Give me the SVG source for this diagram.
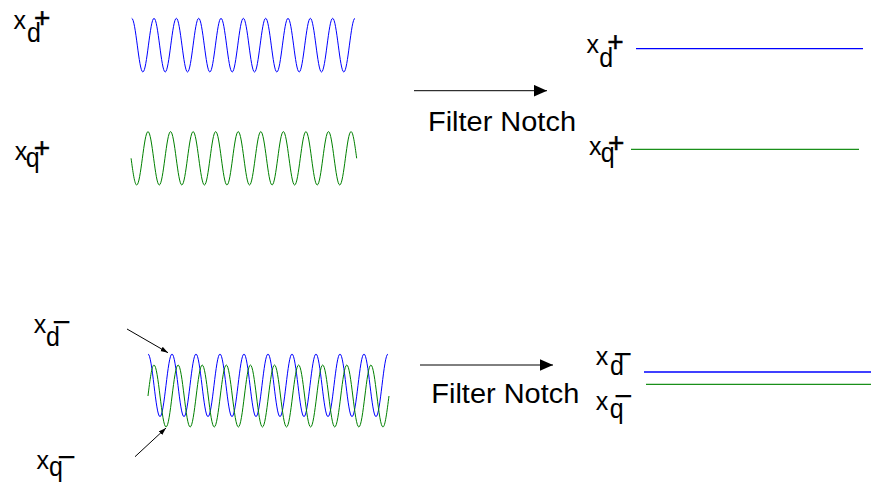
<svg xmlns="http://www.w3.org/2000/svg" width="871" height="488" viewBox="0 0 871 488">
<defs>
<style>
text{font-family:"Liberation Sans",Arial,sans-serif;fill:#000}
.lbl{font-size:25px}
.pm{font-size:28px;text-anchor:middle;stroke:#000;stroke-width:0.5}
.mn{font-size:32px;text-anchor:middle}
.ft{font-size:27px}
.wb{fill:none;stroke:#0000ff;stroke-width:1}
.wg{fill:none;stroke:#008000;stroke-width:1}
.fb{stroke:#0000ff;stroke-width:1.3}
.fg{stroke:#1a8f1a;stroke-width:1.3}
.ar{stroke:#000;stroke-width:1;fill:none}
</style>
<marker id="big" markerUnits="userSpaceOnUse" markerWidth="14" markerHeight="12" refX="13" refY="5.8" orient="auto">
<path d="M0,0 L13,5.8 L0,11.6 z" fill="#000"/>
</marker>
<marker id="small" markerUnits="userSpaceOnUse" markerWidth="8" markerHeight="6" refX="7.5" refY="2.5" orient="auto">
<path d="M0,0 L7.5,2.5 L0,5 z" fill="#000"/>
</marker>
</defs>

<g id="wave-xd-plus">
<path class="wb" d="M131.7,18.3 C135.76,18.3 138.81,72 142.87,72 S149.97,18.3 154.03,18.3 S161.14,72 165.20,72 S172.30,18.3 176.36,18.3 S183.47,72 187.53,72 S194.63,18.3 198.69,18.3 S205.80,72 209.86,72 S216.96,18.3 221.02,18.3 S228.13,72 232.19,72 S239.29,18.3 243.35,18.3 S250.46,72 254.52,72 S261.62,18.3 265.68,18.3 S272.79,72 276.85,72 S283.95,18.3 288.01,18.3 S295.12,72 299.18,72 S306.28,18.3 310.34,18.3 S317.45,72 321.51,72 S328.61,18.3 332.67,18.3 S339.78,72 343.84,72 S350.94,18.3 355.00,18.3"/>
</g>
<g id="wave-xq-plus">
<path class="wg" d="M131.08,158.3 C132.92,171.98 134.68,185 136.72,185 C140.82,185 143.90,131.6 148.00,131.6 S155.18,185 159.28,185 S166.46,131.6 170.56,131.6 S177.74,185 181.84,185 S189.02,131.6 193.12,131.6 S200.30,185 204.40,185 S211.58,131.6 215.68,131.6 S222.86,185 226.96,185 S234.14,131.6 238.24,131.6 S245.42,185 249.52,185 S256.70,131.6 260.80,131.6 S267.98,185 272.08,185 S279.26,131.6 283.36,131.6 S290.54,185 294.64,185 S301.82,131.6 305.92,131.6 S313.10,185 317.20,185 S324.38,131.6 328.48,131.6 S335.66,185 339.76,185 S346.94,131.6 351.04,131.6 C353.08,131.6 354.84,144.62 356.68,158.3"/>
</g>
<g id="wave-xd-minus">
<path class="wb" d="M148,354 C152.36,354 155.64,416.7 160,416.7 S167.64,354 172,354 S179.64,416.7 184,416.7 S191.64,354 196,354 S203.64,416.7 208,416.7 S215.64,354 220,354 S227.64,416.7 232,416.7 S239.64,354 244,354 S251.64,416.7 256,416.7 S263.64,354 268,354 S275.64,416.7 280,416.7 S287.64,354 292,354 S299.64,416.7 304,416.7 S311.64,354 316,354 S323.64,416.7 328,416.7 S335.64,354 340,354 S347.64,416.7 352,416.7 S359.64,354 364,354 S371.64,416.7 376,416.7 S383.64,354 388,354"/>
</g>
<g id="wave-xq-minus">
<path class="wg" d="M147.98,396 C149.94,380.12 151.82,365 154,365 C158.38,365 161.67,427 166.05,427 S173.72,365 178.10,365 S185.77,427 190.15,427 S197.82,365 202.20,365 S209.87,427 214.25,427 S221.92,365 226.30,365 S233.97,427 238.35,427 S246.02,365 250.40,365 S258.07,427 262.45,427 S270.12,365 274.50,365 S282.17,427 286.55,427 S294.22,365 298.60,365 S306.27,427 310.65,427 S318.32,365 322.70,365 S330.37,427 334.75,427 S342.42,365 346.80,365 S354.47,427 358.85,427 S366.52,365 370.90,365 S378.57,427 382.95,427 C385.13,427 387.01,411.12 388.98,396"/>
</g>

<g id="flat-xd-plus"><line class="fb" x1="636" y1="48.7" x2="863" y2="48.7"/></g>
<g id="flat-xq-plus"><line class="fg" x1="631" y1="149.3" x2="859" y2="149.3"/></g>
<g id="flat-xd-minus"><line class="fb" x1="644" y1="372" x2="871" y2="372"/></g>
<g id="flat-xq-minus"><line class="fg" x1="646" y1="384.3" x2="871" y2="384.3"/></g>

<g id="label-xd-plus-in">
<text class="lbl" x="13.5" y="29">x</text>
<text class="lbl" transform="translate(26.9,41.7) scale(1,1.12)">d</text>
<text class="pm" x="42.3" y="27.2">+</text>
</g>
<g id="label-xq-plus-in">
<text class="lbl" x="14.7" y="160">x</text>
<text class="lbl" transform="translate(25.7,166.8) scale(1,1.12)">q</text>
<text class="pm" x="42" y="156.9">+</text>
</g>
<g id="label-xd-plus-out">
<text class="lbl" x="586.4" y="52.7">x</text>
<text class="lbl" transform="translate(599.2,67.3) scale(1,1.12)">d</text>
<text class="pm" x="615.5" y="50.9">+</text>
</g>
<g id="label-xq-plus-out">
<text class="lbl" x="589" y="155">x</text>
<text class="lbl" transform="translate(600.7,161.8) scale(1,1.12)">q</text>
<text class="pm" x="616.3" y="152.2">+</text>
</g>
<g id="label-xd-minus-in">
<text class="lbl" x="33.7" y="332.7">x</text>
<text class="lbl" transform="translate(45.9,346) scale(1,1.12)">d</text>
<text class="mn" x="61.7" y="333">−</text>
</g>
<g id="label-xq-minus-in">
<text class="lbl" x="36.4" y="469">x</text>
<text class="lbl" transform="translate(49,476.2) scale(1,1.12)">q</text>
<text class="mn" x="66.7" y="468">−</text>
</g>
<g id="label-xd-minus-out">
<text class="lbl" x="595.7" y="365">x</text>
<text class="lbl" transform="translate(609.9,375) scale(1,1.08)">d</text>
<text class="mn" x="622.8" y="364.7">−</text>
</g>
<g id="label-xq-minus-out">
<text class="lbl" x="595.7" y="410">x</text>
<text class="lbl" transform="translate(609.7,417.8) scale(1,1.12)">q</text>
<text class="mn" x="623.3" y="407.4">−</text>
</g>

<g id="filter-top"><text class="ft" x="428" y="130.7" textLength="148" lengthAdjust="spacingAndGlyphs">Filter Notch</text></g>
<g id="filter-bottom"><text class="ft" x="431.3" y="402.7" textLength="148" lengthAdjust="spacingAndGlyphs">Filter Notch</text></g>

<g id="connectors">
<line class="ar" x1="414" y1="90.7" x2="547" y2="90.7" marker-end="url(#big)"/>
<line class="ar" x1="420" y1="365" x2="553" y2="365" marker-end="url(#big)"/>
<line class="ar" x1="127" y1="329" x2="168" y2="352.7" marker-end="url(#small)"/>
<line class="ar" x1="135" y1="456.7" x2="166" y2="428" marker-end="url(#small)"/>
</g>
</svg>
